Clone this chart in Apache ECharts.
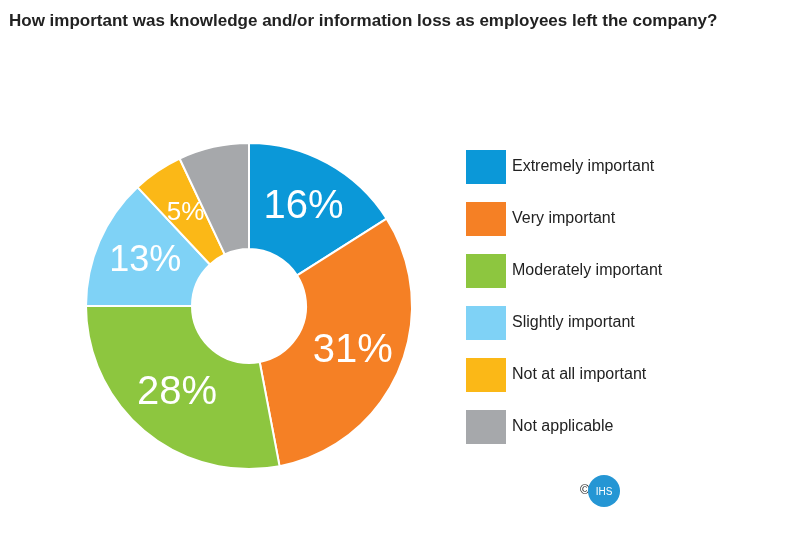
<!DOCTYPE html>
<html>
<head>
<meta charset="utf-8">
<script src="https://cdn.jsdelivr.net/npm/echarts@6/dist/echarts.min.js"></script>
<style>html,body{margin:0;padding:0;background:#fff}#chart{width:800px;height:534px}</style>
</head>
<body>
<div id="chart"></div>
<script>
const categories = ["Extremely important", "Very important", "Moderately important", "Slightly important", "Not at all important", "Not applicable"];
const values = [16, 31, 28, 13, 5, 7];
const colors = ["#0b98d8", "#f58025", "#8dc63f", "#7fd2f6", "#fbb817", "#a6a8ab"];
const labelSizes = [40, 40, 40, 36, 26, 30];

const font = "'Liberation Sans Narrow', 'Arial Narrow', 'Liberation Sans', sans-serif";
const chart = echarts.init(document.getElementById("chart"));

chart.setOption({
    title: {
        text: "How important was knowledge and/or information loss as employees left the company?",
        left: 4,
        top: 8,
        textStyle: { fontFamily: font, fontWeight: "bold", fontSize: 17, color: "#222" }
    },
    color: colors,
    legend: {
        orient: "vertical",
        left: 459,
        top: 143,
        itemWidth: 42,
        itemHeight: 36,
        itemGap: 14,
        icon: "rect",
        textStyle: { fontFamily: font, fontSize: 16, color: "#222" },
        data: categories
    },
    series: [{
        type: "pie",
        center: [249, 306],
        radius: [57, 163],
        startAngle: 90,
        clockwise: true,
        itemStyle: { borderColor: "#fff", borderWidth: 2 },
        label: {
            position: "inside",
            formatter: "{c}%",
            color: "#fff",
            fontFamily: font
        },
        labelLine: { show: false },
        emphasis: { disabled: true },
        data: categories.map((c, i) => ({
            name: c,
            value: values[i],
            label: { fontSize: labelSizes[i] }
        }))
    }],
    graphic: [
        { type: "text", left: 580, top: 484, style: { text: "©", fontSize: 13, fill: "#222" } },
        { type: "circle", shape: { cx: 604, cy: 491, r: 16 }, style: { fill: "#2596d4" } },
        { type: "text", x: 604, y: 492, style: { text: "IHS", fontSize: 10, fill: "#fff", align: "center", verticalAlign: "middle", fontFamily: font } }
    ]
});
</script>
</body>
</html>
